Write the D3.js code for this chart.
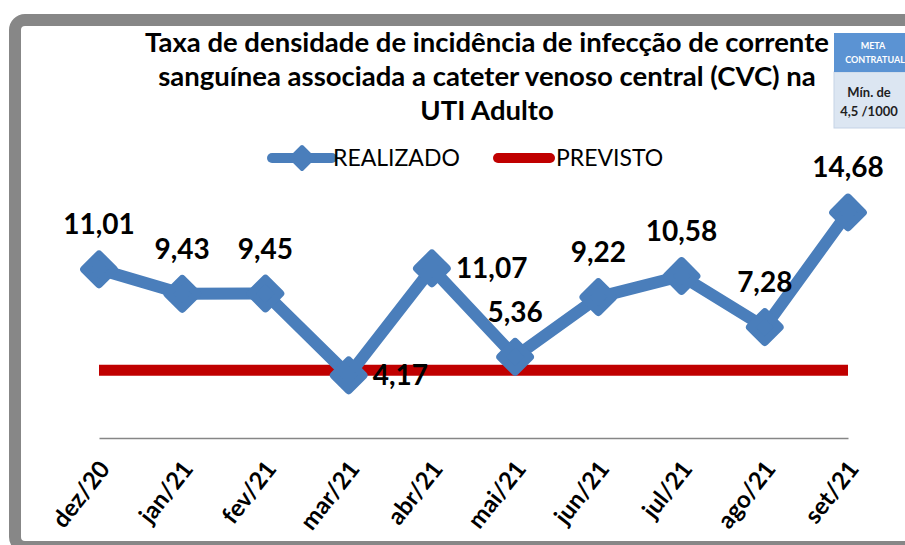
<!DOCTYPE html>
<html lang="pt">
	<head>
		<meta charset="utf-8">
		<title>D3: Taxa de densidade CVC</title>
		<script type="text/javascript" src="https://cdn.jsdelivr.net/npm/d3@7"></script>
		<style type="text/css">
			body {
				margin: 0;
				background-color: white;
			}
			text {
				font-family: Lato, "Open Sans", sans-serif;
			}
		</style>
	</head>
	<body>
		<script type="text/javascript">

			//Width and height
			var w = 905;
			var h = 545;

			//Data
			var months = ["dez/20", "jan/21", "fev/21", "mar/21", "abr/21", "mai/21", "jun/21", "jul/21", "ago/21", "set/21"];
			var realizado = [11.01, 9.43, 9.45, 4.17, 11.07, 5.36, 9.22, 10.58, 7.28, 14.68];
			var previsto = [4.5, 4.5, 4.5, 4.5, 4.5, 4.5, 4.5, 4.5, 4.5, 4.5];
			//where Excel put each data label
			var labelSide = ["above", "above", "above", "right", "right", "above", "above", "above", "above", "above"];
			var titleLines = ["Taxa de densidade de incidência de infecção de corrente",
							  "sanguínea associada a cateter venoso central (CVC) na",
							  "UTI Adulto"];

			var blue = "#4A7EBB";
			var red = "#C00000";

			//Number format with comma
			var fmt = function(v) { return d3.format(".2f")(v).replace(".", ","); };

			//Create SVG element
			var svg = d3.select("body")
						.append("svg")
						.attr("width", w)
						.attr("height", h);

			//Gray frame
			svg.append("rect")
				.attr("x", 15)
				.attr("y", 20)
				.attr("width", 1000)
				.attr("height", 527)
				.attr("rx", 10)
				.attr("fill", "white")
				.attr("stroke", "#878787")
				.attr("stroke-width", 12);

			//Scales
			var xScale = d3.scalePoint()
						   .domain(months)
						   .range([99, 848]);

			var yScale = d3.scaleLinear()
						   .domain([0, 16])
						   .range([440, 192]);

			//X axis
			var xAxis = d3.axisBottom()
						  .scale(xScale)
						  .tickSize(0)
						  .tickPadding(0);

			var gx = svg.append("g")
				.attr("class", "axis")
				.attr("transform", "translate(0," + 438 + ")")
				.call(xAxis);
			gx.select(".domain")
				.attr("stroke", "#868686")
				.attr("stroke-width", 1.5);
			gx.selectAll(".tick text")
				.attr("text-anchor", "end")
				.attr("transform", "translate(5,26) rotate(-52)")
				.attr("y", 0)
				.attr("dy", "0.35em")
				.attr("font-size", "24px")
				.attr("font-weight", "bold")
				.attr("font-family", "Lato, sans-serif")
				.attr("fill", "black");

			//Title
			svg.selectAll("text.title")
				.data(titleLines)
				.enter()
				.append("text")
				.attr("class", "title")
				.attr("x", 487)
				.attr("y", function(d, i) { return 52 + i * 34; })
				.attr("text-anchor", "middle")
				.attr("font-size", "27.5px")
				.attr("font-weight", "bold")
				.attr("fill", "black")
				.text(function(d) { return d; });

			//Meta box, top right
			var meta = svg.append("g");
			meta.append("rect")
				.attr("x", 834).attr("y", 72)
				.attr("width", 80).attr("height", 56)
				.attr("fill", "#DCE6F2")
				.attr("stroke", "#C5D3E6");
			meta.append("rect")
				.attr("x", 834).attr("y", 33)
				.attr("width", 80).attr("height", 39)
				.attr("fill", "#5B93D3");
			meta.append("text")
				.attr("x", 873).attr("y", 49)
				.attr("text-anchor", "middle")
				.attr("font-size", "9px").attr("font-weight", "bold")
				.attr("fill", "white")
				.text("META");
			meta.append("text")
				.attr("x", 875).attr("y", 63)
				.attr("text-anchor", "middle")
				.attr("font-size", "9px").attr("font-weight", "bold")
				.attr("fill", "white")
				.text("CONTRATUAL");
			meta.append("text")
				.attr("x", 869).attr("y", 97)
				.attr("text-anchor", "middle")
				.attr("font-size", "13px").attr("font-weight", "bold")
				.attr("fill", "#1F1F1F")
				.text("Mín. de");
			meta.append("text")
				.attr("x", 869).attr("y", 116)
				.attr("text-anchor", "middle")
				.attr("font-size", "13px").attr("font-weight", "bold")
				.attr("fill", "#1F1F1F")
				.text("4,5 /1000");

			//Legend
			var legend = svg.append("g");
			legend.append("line")
				.attr("x1", 272).attr("x2", 332)
				.attr("y1", 158).attr("y2", 158)
				.attr("stroke", blue).attr("stroke-width", 10)
				.attr("stroke-linecap", "round");
			legend.append("path")
				.attr("d", "M302,147L313,158L302,169L291,158Z")
				.attr("fill", blue).attr("stroke", blue)
				.attr("stroke-width", 4).attr("stroke-linejoin", "round");
			legend.append("text")
				.attr("x", 333).attr("y", 166)
				.attr("font-size", "23px")
				.attr("fill", "black")
				.text("REALIZADO");
			legend.append("line")
				.attr("x1", 498).attr("x2", 550)
				.attr("y1", 158).attr("y2", 158)
				.attr("stroke", red).attr("stroke-width", 10)
				.attr("stroke-linecap", "round");
			legend.append("text")
				.attr("x", 556).attr("y", 166)
				.attr("font-size", "23px")
				.attr("fill", "black")
				.text("PREVISTO");

			//PREVISTO line
			var line = d3.line()
						 .x(function(d, i) { return xScale(months[i]); })
						 .y(function(d) { return yScale(d); });

			svg.append("path")
				.datum(previsto)
				.attr("d", line)
				.attr("fill", "none")
				.attr("stroke", red)
				.attr("stroke-width", 11);

			//REALIZADO line
			svg.append("path")
				.datum(realizado)
				.attr("d", line)
				.attr("fill", "none")
				.attr("stroke", blue)
				.attr("stroke-width", 12)
				.attr("stroke-linejoin", "round");

			//Diamond markers
			var diamond = d3.symbol().type(d3.symbolDiamond2).size(560);
			svg.selectAll("path.marker")
				.data(realizado)
				.enter()
				.append("path")
				.attr("class", "marker")
				.attr("d", diamond)
				.attr("transform", function(d, i) {
					return "translate(" + xScale(months[i]) + "," + yScale(d) + ")";
				})
				.attr("fill", blue)
				.attr("stroke", blue)
				.attr("stroke-width", 8)
				.attr("stroke-linejoin", "round");

			//Data labels
			svg.selectAll("text.label")
				.data(realizado)
				.enter()
				.append("text")
				.attr("class", "label")
				.attr("x", function(d, i) {
					return labelSide[i] == "right" ? xScale(months[i]) + 24 : xScale(months[i]);
				})
				.attr("y", function(d, i) {
					return labelSide[i] == "right" ? yScale(d) + 10 : yScale(d) - 35;
				})
				.attr("text-anchor", function(d, i) {
					return labelSide[i] == "right" ? "start" : "middle";
				})
				.attr("font-size", "28px")
				.attr("font-weight", "bold")
				.attr("fill", "black")
				.text(fmt);

		</script>
	</body>
</html>
